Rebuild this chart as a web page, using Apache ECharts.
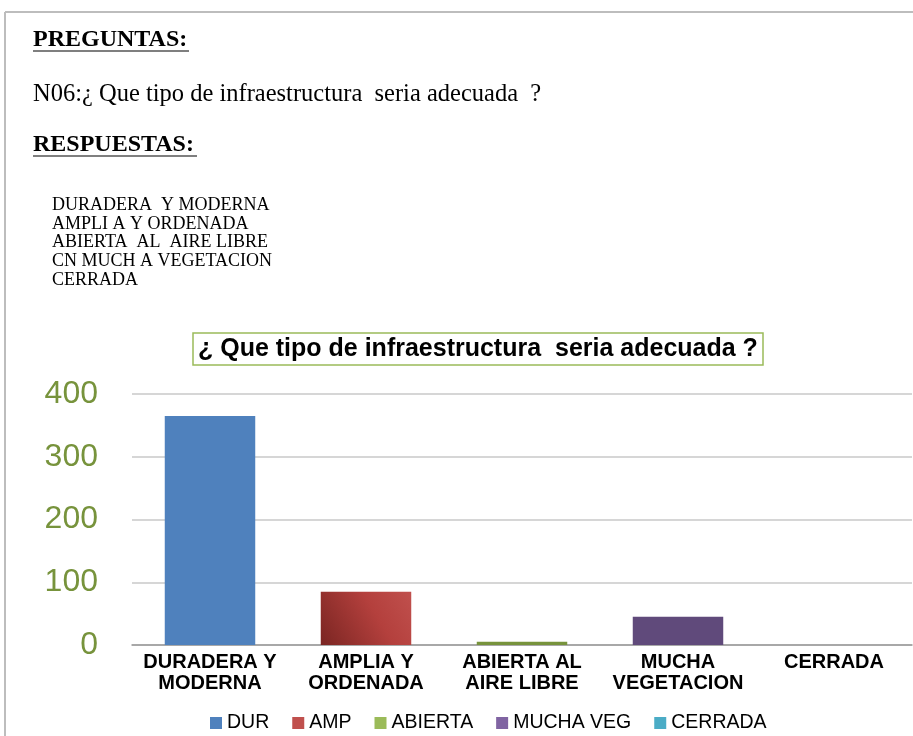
<!DOCTYPE html>
<html>
<head>
<meta charset="utf-8">
<script src="https://cdn.jsdelivr.net/npm/echarts@6/dist/echarts.min.js"></script>
<style>
  html, body { margin: 0; padding: 0; background: #fff; }
  #main { width: 913px; height: 736px; }
</style>
</head>
<body>
<div id="main"></div>
<script>
// datos del gráfico
var categorias = ['DURADERA Y\nMODERNA', 'AMPLIA Y\nORDENADA', 'ABIERTA AL\nAIRE LIBRE', 'MUCHA\nVEGETACION', 'CERRADA'];
var leyenda = ['DUR', 'AMP', 'ABIERTA', 'MUCHA VEG', 'CERRADA'];
var valores = [365, 85, 5, 45, 0];
var respuestas = ['DURADERA  Y MODERNA', 'AMPLI A Y ORDENADA', 'ABIERTA  AL  AIRE LIBRE', 'CN MUCH A VEGETACION', 'CERRADA'];

var coloresLeyenda = ['#4f81bd', '#c0504d', '#9bbb59', '#8064a2', '#4bacc6'];
var coloresBarra = [
    '#4f81bd',
    new echarts.graphic.LinearGradient(0, 1, 1, 0, [
        { offset: 0, color: '#7a2522' },
        { offset: 0.6, color: '#b4403d' },
        { offset: 1, color: '#c0504d' }
    ]),
    '#77933c', '#604a7b', '#4bacc6'
];

var myChart = echarts.init(document.getElementById('main'));

var sans = '"Liberation Sans", Arial, sans-serif';
var serif = '"Liberation Serif", "DejaVu Serif", serif';

// texto de la pregunta encima del gráfico
var textos = [
    { type: 'text', left: 33, top: 28, style: { text: 'PREGUNTAS:', font: 'bold 24px ' + serif, fill: '#000' } },
    { type: 'line', shape: { x1: 33, y1: 51, x2: 189, y2: 51 }, style: { stroke: '#000', lineWidth: 1.2 } },
    { type: 'text', left: 33, top: 82, style: { text: 'N06:¿ Que tipo de infraestructura  seria adecuada  ?', font: '24.5px ' + serif, fill: '#000' } },
    { type: 'text', left: 33, top: 133, style: { text: 'RESPUESTAS:', font: 'bold 24px ' + serif, fill: '#000' } },
    { type: 'line', shape: { x1: 33, y1: 156, x2: 197, y2: 156 }, style: { stroke: '#000', lineWidth: 1.2 } },
    // marco
    { type: 'line', shape: { x1: 5, y1: 12, x2: 913, y2: 12 }, style: { stroke: '#bdbdbd', lineWidth: 2 } },
    { type: 'line', shape: { x1: 5, y1: 12, x2: 5, y2: 736 }, style: { stroke: '#bdbdbd', lineWidth: 2 } }
];
respuestas.forEach(function (r, i) {
    textos.push({
        type: 'text', left: 52, top: 196 + i * 18.8,
        style: { text: r, font: '18px ' + serif, fill: '#000' }
    });
});

var series = leyenda.map(function (nombre, i) {
    return {
        name: nombre,
        type: 'bar',
        stack: 'total',
        barWidth: '58%',
        itemStyle: { color: coloresLeyenda[i] },
        data: categorias.map(function (c, j) {
            return j === i ? { value: valores[i], itemStyle: { color: coloresBarra[i] } } : '-';
        })
    };
});

var option = {
    animation: false,
    title: {
        text: '¿ Que tipo de infraestructura  seria adecuada ?',
        left: 193,
        top: 333,
        padding: [4, 5, 3, 5],
        borderColor: '#9bbb59',
        borderWidth: 1.5,
        textStyle: { fontFamily: sans, fontWeight: 'bold', fontSize: 25, color: '#000' }
    },
    graphic: textos,
    legend: {
        data: leyenda,
        top: 708,
        left: 205,
        itemWidth: 12,
        itemHeight: 12,
        itemGap: 23,
        icon: 'rect',
        textStyle: { fontFamily: sans, fontSize: 19.5, color: '#000' }
    },
    grid: { left: 132, right: 1, top: 394, bottom: 91, containLabel: false },
    xAxis: {
        type: 'category',
        data: categorias,
        axisLine: { lineStyle: { color: '#999', width: 1.5 } },
        axisTick: { show: false },
        axisLabel: {
            interval: 0,
            margin: 7,
            lineHeight: 21,
            fontFamily: sans,
            fontWeight: 'bold',
            fontSize: 20,
            color: '#000'
        }
    },
    yAxis: {
        type: 'value',
        min: 0,
        max: 400,
        interval: 100,
        axisLine: { show: false },
        axisTick: { show: false },
        splitLine: { lineStyle: { color: '#c8c8c8', width: 1.5 } },
        axisLabel: { fontFamily: sans, fontSize: 32, color: '#77933c', margin: 34 }
    },
    series: series
};

option && myChart.setOption(option);
</script>
</body>
</html>
